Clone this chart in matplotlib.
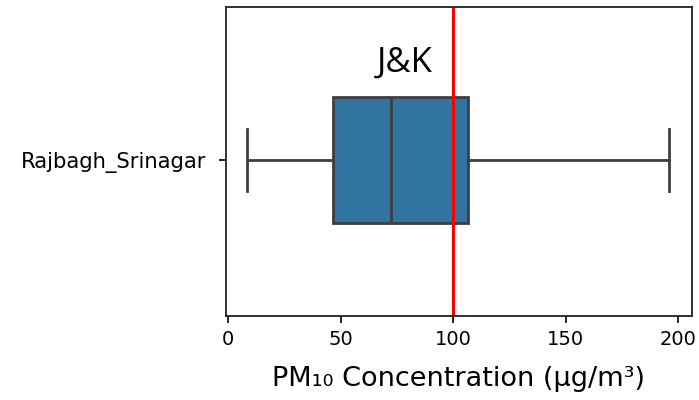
import matplotlib
matplotlib.use("Agg")
import matplotlib.pyplot as plt

# box summary (PM10, ug/m3)
stations = ["Rajbagh_Srinagar"]
whislo = [8.5]
q1 = [46.5]
med = [72.5]
q3 = [106.5]
whishi = [196.0]
limit = 100
region = "J&K"

stats = []
for i, name in enumerate(stations):
    stats.append(dict(label=name, whislo=whislo[i], q1=q1[i], med=med[i],
                      q3=q3[i], whishi=whishi[i], fliers=[]))

fig = plt.figure(figsize=(6.99, 4.0), dpi=100)
ax = fig.add_axes([0.323, 0.21, 0.667, 0.7725])

edge = "#3f3f3f"
ax.bxp(stats, positions=range(len(stations)), vert=False, widths=0.405,
       patch_artist=True, showfliers=False,
       boxprops=dict(facecolor="#3274a1", edgecolor=edge, linewidth=2),
       medianprops=dict(color=edge, linewidth=2),
       whiskerprops=dict(color=edge, linewidth=2),
       capprops=dict(color=edge, linewidth=2))

ax.axvline(limit, color="red", linewidth=2.2)
ax.set_ylim(0.505, -0.495)
ax.set_xlim(-1, 206)
ax.set_xticks([0, 50, 100, 150, 200])
ax.set_yticks(range(len(stations)))
ax.set_yticklabels(stations)
ax.tick_params(axis="x", labelsize=14, length=5, width=1.2, pad=5)
ax.tick_params(axis="y", labelsize=15.2, length=5, width=1.2, pad=9)
for s in ax.spines.values():
    s.set_linewidth(1.3)
    s.set_color("#222222")

ax.set_xlabel("PM₁₀ Concentration (μg/m³)", fontsize=19.5, labelpad=12)
ax.text(78.5, -0.315, region, fontsize=25, ha="center", va="center",
        family=["Open Sans", "DejaVu Sans"])

fig.savefig("out.png", dpi=100)
